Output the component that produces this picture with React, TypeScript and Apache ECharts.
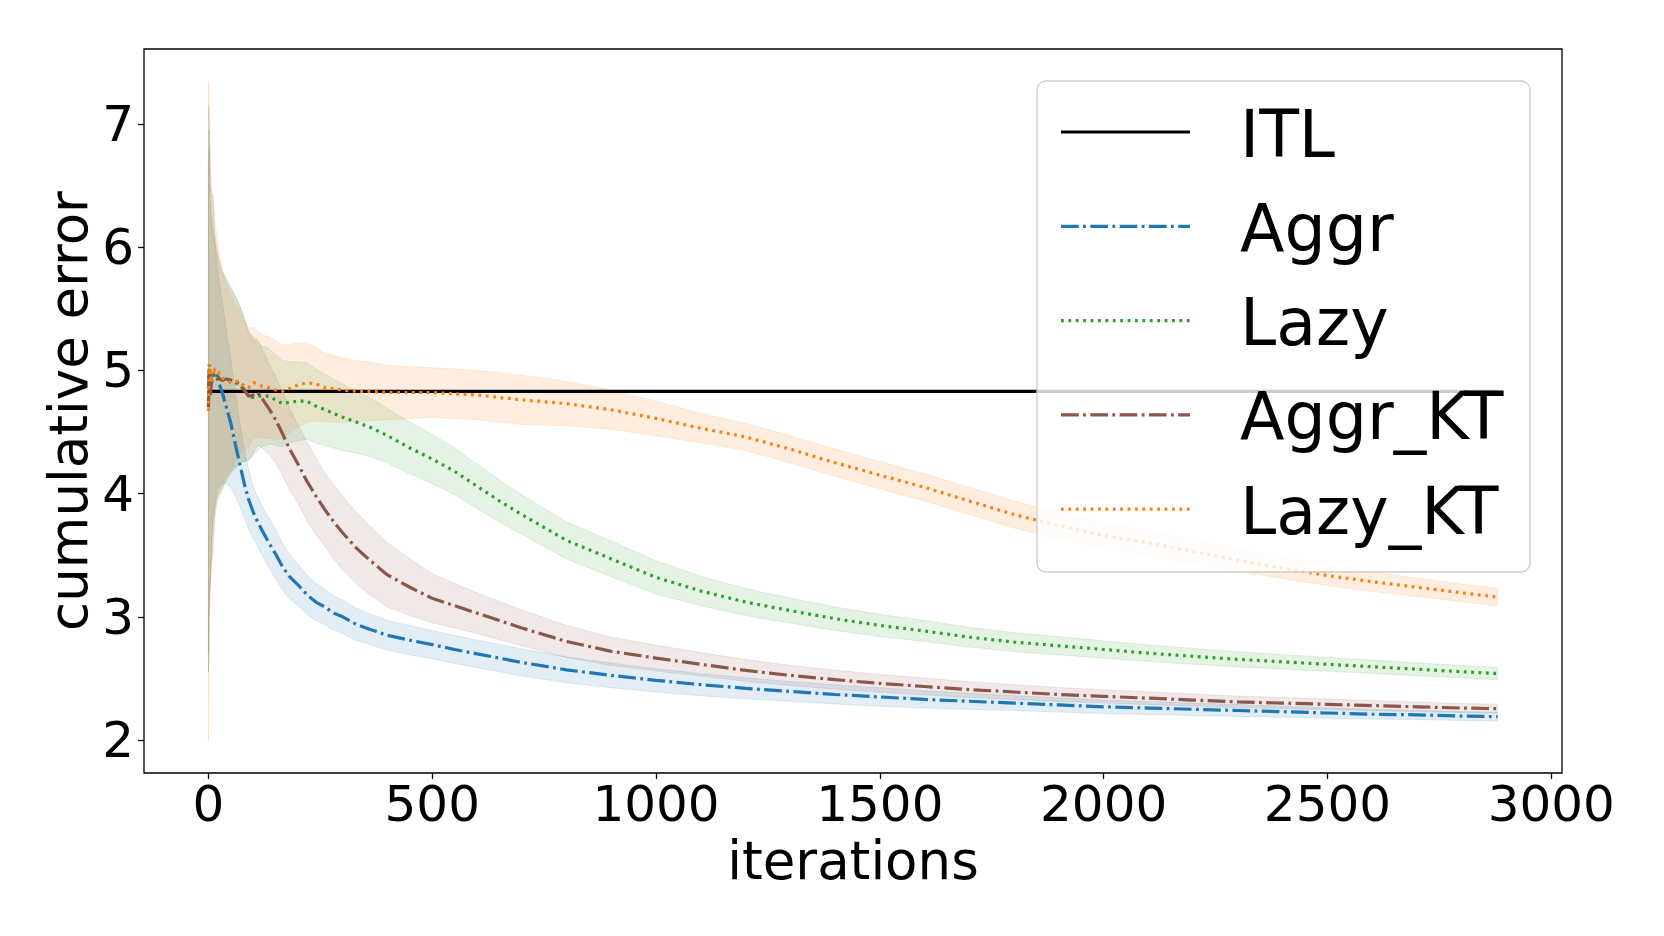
import React, { useEffect, useRef } from "react";
import * as echarts from "echarts";

// iterations (x positions of the sampled points)
const X = [0, 2, 4, 7, 10, 15, 20, 25, 30, 40, 50, 60, 70, 80, 90, 100, 110, 120, 135, 150, 165, 180, 200, 220, 240, 260, 280, 300, 330, 360, 400, 450, 500, 550, 600, 650, 700, 800, 900, 1000, 1100, 1200, 1300, 1400, 1500, 1600, 1700, 1800, 1900, 2000, 2100, 2200, 2300, 2400, 2500, 2600, 2700, 2800, 2880];

const ITL_VALUE = 4.83;

const AGGR_MEAN = [4.85, 5.02, 4.9, 4.95, 4.97, 4.97, 4.93, 4.88, 4.83, 4.7, 4.57, 4.4, 4.24, 4.08, 3.95, 3.85, 3.77, 3.7, 3.6, 3.51, 3.41, 3.33, 3.26, 3.18, 3.12, 3.08, 3.03, 3.0, 2.94, 2.9, 2.85, 2.81, 2.775, 2.735, 2.7, 2.665, 2.63, 2.57, 2.525, 2.485, 2.45, 2.42, 2.395, 2.37, 2.35, 2.33, 2.315, 2.3, 2.285, 2.27, 2.26, 2.25, 2.24, 2.23, 2.22, 2.21, 2.205, 2.195, 2.19];
const AGGR_STD = [2.3, 2.0, 1.6, 1.5, 1.45, 1.05, 0.9, 0.82, 0.75, 0.62, 0.52, 0.42, 0.34, 0.28, 0.24, 0.21, 0.2, 0.2, 0.2, 0.2, 0.19, 0.18, 0.17, 0.16, 0.15, 0.145, 0.14, 0.135, 0.13, 0.125, 0.12, 0.118, 0.115, 0.113, 0.112, 0.111, 0.11, 0.105, 0.1, 0.095, 0.09, 0.085, 0.08, 0.078, 0.075, 0.07, 0.065, 0.06, 0.058, 0.055, 0.052, 0.05, 0.048, 0.045, 0.043, 0.04, 0.038, 0.036, 0.035];

const LAZY_MEAN = [4.75, 5.05, 4.85, 4.95, 4.98, 4.97, 4.95, 4.93, 4.92, 4.92, 4.92, 4.9, 4.88, 4.84, 4.79, 4.78, 4.79, 4.79, 4.79, 4.76, 4.73, 4.74, 4.75, 4.75, 4.71, 4.68, 4.65, 4.62, 4.58, 4.54, 4.47, 4.37, 4.28, 4.18, 4.06, 3.94, 3.83, 3.62, 3.47, 3.32, 3.21, 3.12, 3.05, 2.985, 2.93, 2.885, 2.835, 2.795, 2.765, 2.735, 2.705, 2.68, 2.655, 2.635, 2.615, 2.595, 2.575, 2.555, 2.54];
const LAZY_STD = [2.2, 1.9, 1.6, 1.35, 1.2, 1.1, 1.0, 0.95, 0.9, 0.82, 0.76, 0.7, 0.64, 0.58, 0.52, 0.47, 0.44, 0.41, 0.39, 0.37, 0.35, 0.33, 0.32, 0.31, 0.3, 0.29, 0.28, 0.27, 0.25, 0.24, 0.22, 0.21, 0.2, 0.19, 0.18, 0.17, 0.16, 0.15, 0.145, 0.135, 0.12, 0.11, 0.1, 0.095, 0.09, 0.085, 0.08, 0.077, 0.074, 0.07, 0.067, 0.064, 0.061, 0.058, 0.056, 0.054, 0.052, 0.05, 0.05];

const AGGR_KT_MEAN = [4.7, 5.0, 4.8, 4.9, 4.95, 4.98, 4.96, 4.93, 4.92, 4.93, 4.92, 4.91, 4.89, 4.84, 4.79, 4.8, 4.82, 4.77, 4.69, 4.6, 4.49, 4.37, 4.24, 4.1, 3.98, 3.87, 3.77, 3.68, 3.56, 3.46, 3.34, 3.24, 3.15, 3.09, 3.03, 2.97, 2.91, 2.8, 2.72, 2.665, 2.615, 2.565, 2.525, 2.49, 2.46, 2.435, 2.41, 2.39, 2.37, 2.355, 2.34, 2.325, 2.31, 2.3, 2.29, 2.28, 2.27, 2.26, 2.255];
const AGGR_KT_STD = [2.0, 1.8, 1.5, 1.3, 1.15, 1.05, 0.98, 0.92, 0.88, 0.8, 0.74, 0.69, 0.64, 0.58, 0.52, 0.47, 0.43, 0.4, 0.37, 0.35, 0.34, 0.33, 0.32, 0.32, 0.31, 0.3, 0.3, 0.3, 0.29, 0.28, 0.26, 0.23, 0.2, 0.18, 0.165, 0.155, 0.145, 0.13, 0.115, 0.105, 0.095, 0.088, 0.082, 0.077, 0.072, 0.068, 0.064, 0.06, 0.057, 0.054, 0.051, 0.049, 0.047, 0.045, 0.043, 0.041, 0.039, 0.037, 0.036];

const LAZY_KT_MEAN = [4.67, 5.05, 4.98, 4.9, 5.02, 5.0, 5.01, 4.97, 4.94, 4.92, 4.9, 4.91, 4.91, 4.87, 4.86, 4.9, 4.89, 4.87, 4.86, 4.84, 4.83, 4.85, 4.88, 4.9, 4.89, 4.86, 4.85, 4.84, 4.83, 4.83, 4.82, 4.82, 4.82, 4.81, 4.8, 4.78, 4.76, 4.73, 4.68, 4.61, 4.53, 4.46, 4.36, 4.25, 4.15, 4.05, 3.94, 3.83, 3.74, 3.66, 3.6, 3.53, 3.46, 3.395, 3.335, 3.285, 3.24, 3.195, 3.16];
const LAZY_KT_STD = [2.67, 2.1, 1.78, 1.5, 1.4, 1.2, 1.05, 0.95, 0.88, 0.78, 0.7, 0.63, 0.57, 0.52, 0.48, 0.45, 0.43, 0.42, 0.41, 0.4, 0.38, 0.36, 0.34, 0.32, 0.3, 0.28, 0.27, 0.26, 0.25, 0.24, 0.22, 0.21, 0.2, 0.2, 0.2, 0.2, 0.2, 0.18, 0.16, 0.14, 0.12, 0.11, 0.11, 0.11, 0.11, 0.11, 0.11, 0.11, 0.105, 0.1, 0.1, 0.095, 0.09, 0.085, 0.08, 0.078, 0.075, 0.072, 0.07];

const X_TICKS = [0, 500, 1000, 1500, 2000, 2500, 3000];
const Y_TICKS = [2, 3, 4, 5, 6, 7];

const FONT = "DejaVu Sans";
const LW = 3.2;
const DASH_DOT = [17.7, 4.4, 2.8, 4.4];
const DOTTED = [2.8, 4.6];

const CURVES = [
  { name: "Aggr", mean: AGGR_MEAN, std: AGGR_STD, color: "#1f77b4", dash: DASH_DOT },
  { name: "Lazy", mean: LAZY_MEAN, std: LAZY_STD, color: "#2ca02c", dash: DOTTED },
  { name: "Aggr_KT", mean: AGGR_KT_MEAN, std: AGGR_KT_STD, color: "#8c564b", dash: DASH_DOT },
  { name: "Lazy_KT", mean: LAZY_KT_MEAN, std: LAZY_KT_STD, color: "#ff7f0e", dash: DOTTED },
];

function rgba(hex: string, a: number) {
  const n = parseInt(hex.slice(1), 16);
  return `rgba(${(n >> 16) & 255},${(n >> 8) & 255},${n & 255},${a})`;
}

function buildOption() {
  let lo = Infinity;
  let hi = -Infinity;
  CURVES.forEach((c) => {
    c.mean.forEach((m, i) => {
      lo = Math.min(lo, m - c.std[i]);
      hi = Math.max(hi, m + c.std[i]);
    });
  });
  const x0 = X[0];
  const x1 = X[X.length - 1];
  const xPad = (x1 - x0) * 0.05;
  const yPad = (hi - lo) * 0.05;

  const bands = CURVES.map((c) => {
    const data = X.map((x, i) => [x, c.mean[i] - c.std[i], c.mean[i] + c.std[i]]);
    return {
      type: "custom",
      name: c.name + " band",
      silent: true,
      z: 1,
      data,
      encode: { x: 0, y: [1, 2] },
      renderItem: (params: any, api: any) => {
        if (params.dataIndex !== 0) return null;
        const upper = data.map((d) => api.coord([d[0], d[2]]));
        const lower = data.map((d) => api.coord([d[0], d[1]])).reverse();
        return {
          type: "polygon",
          shape: { points: upper.concat(lower) },
          style: { fill: rgba(c.color, 0.13), stroke: rgba(c.color, 0.13), lineWidth: 1 },
          silent: true,
        };
      },
    };
  });

  const itl = {
    type: "line",
    name: "ITL",
    data: [
      [x0, ITL_VALUE],
      [x1, ITL_VALUE],
    ],
    symbol: "none",
    showSymbol: false,
    z: 2,
    lineStyle: { color: "#000000", width: LW, type: "solid" },
    silent: true,
  };

  const lines = CURVES.map((c) => ({
    type: "line",
    name: c.name,
    data: X.map((x, i) => [x, c.mean[i]]),
    symbol: "none",
    showSymbol: false,
    z: 3,
    lineStyle: { color: c.color, width: LW, type: c.dash, cap: "butt" },
    silent: true,
  }));

  const legendItems = [
    { name: "ITL", color: "#000000", dash: null as any },
    ...CURVES.map((c) => ({ name: c.name, color: c.color, dash: c.dash })),
  ];
  const elements: any[] = [
    {
      type: "rect",
      zlevel: 1,
      z: 100,
      shape: { x: 1037, y: 81, width: 493, height: 491, r: 9 },
      style: { fill: "rgba(255,255,255,0.8)", stroke: "#cccccc", lineWidth: 1.3 },
      silent: true,
    },
  ];
  legendItems.forEach((it, i) => {
    const cy = 132 + i * 94.3;
    elements.push({
      type: "line",
      zlevel: 1,
      z: 101,
      shape: { x1: 1061, y1: cy, x2: 1190, y2: cy },
      style: { stroke: it.color, lineWidth: LW, lineDash: it.dash || null, lineCap: "butt" },
      silent: true,
    });
    elements.push({
      type: "text",
      zlevel: 1,
      z: 101,
      x: 1240,
      y: cy + 2,
      style: {
        text: it.name,
        fontSize: 65,
        fontFamily: FONT,
        fill: "#000000",
        align: "left",
        verticalAlign: "middle",
      },
      silent: true,
    });
  });

  const axisCommon = {
    type: "value",
    axisLine: { show: false, onZero: false },
    splitLine: { show: false },
    nameLocation: "middle",
    nameMoveOverlap: false,
    nameTextStyle: { fontSize: 53, color: "#000000", fontFamily: FONT },
  };

  return {
    animation: false,
    backgroundColor: "#ffffff",
    textStyle: { fontFamily: FONT },
    grid: {
      left: 144,
      top: 49,
      width: 1418,
      height: 724,
      show: true,
      borderColor: "#000000",
      borderWidth: 1.3,
      backgroundColor: "transparent",
    },
    xAxis: {
      ...axisCommon,
      min: x0 - xPad,
      max: x1 + xPad,
      name: "iterations",
      nameGap: 61,
      axisTick: { show: true, length: 6, lineStyle: { color: "#000000", width: 1.3 }, customValues: X_TICKS },
      axisLabel: {
        customValues: X_TICKS,
        fontSize: 50,
        color: "#000000",
        fontFamily: FONT,
        margin: 6,
        formatter: (v: number) => String(v),
      },
    },
    yAxis: {
      ...axisCommon,
      min: lo - yPad,
      max: hi + yPad,
      name: "cumulative error",
      nameGap: 49,
      axisTick: { show: true, length: 6, lineStyle: { color: "#000000", width: 1.3 }, customValues: Y_TICKS },
      axisLabel: {
        customValues: Y_TICKS,
        fontSize: 50,
        color: "#000000",
        fontFamily: FONT,
        margin: 10,
        formatter: (v: number) => String(v),
      },
    },
    series: [...bands, itl, ...lines],
    graphic: { zlevel: 1, z: 100, elements },
  };
}

export default function App() {
  const ref = useRef<HTMLDivElement>(null);
  useEffect(() => {
    if (!ref.current) return;
    const chart = echarts.init(ref.current, undefined, { renderer: "svg" });
    chart.setOption(buildOption() as any);
    return () => chart.dispose();
  }, []);
  return (
    <div
      ref={ref}
      style={{ position: "fixed", left: 0, top: 0, width: 1664, height: 936, background: "#ffffff" }}
    />
  );
}
